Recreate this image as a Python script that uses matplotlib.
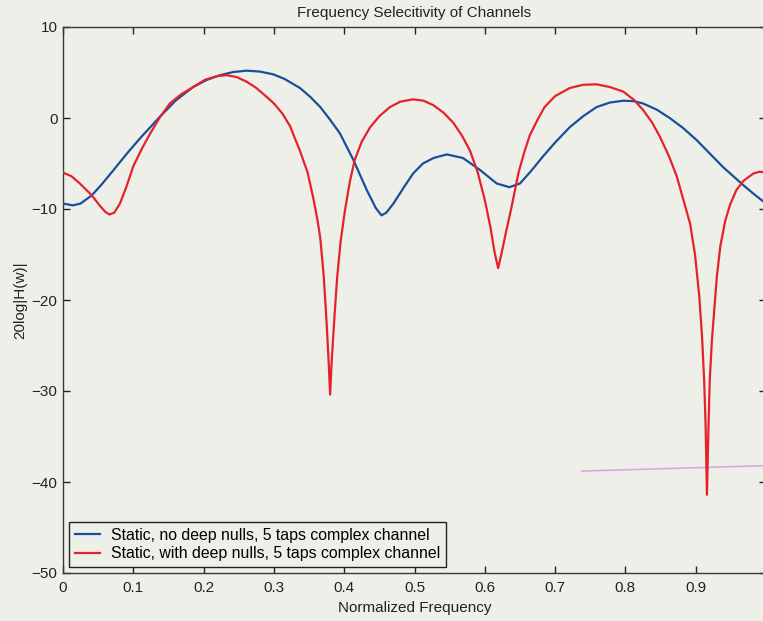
import matplotlib
matplotlib.use("Agg")
import matplotlib.pyplot as plt

# ---- data ----
blue_x = [0.000, 0.014, 0.025, 0.041, 0.055, 0.070, 0.091, 0.110, 0.138, 0.160,
          0.185, 0.205, 0.223, 0.242, 0.261, 0.280, 0.299, 0.315, 0.337, 0.352,
          0.366, 0.380, 0.394, 0.413, 0.432, 0.445, 0.453, 0.460, 0.470, 0.485,
          0.498, 0.512, 0.527, 0.546, 0.569, 0.593, 0.617, 0.635, 0.650, 0.665,
          0.683, 0.700, 0.721, 0.740, 0.759, 0.778, 0.797, 0.812, 0.825, 0.845,
          0.863, 0.882, 0.901, 0.920, 0.939, 0.955, 0.968, 0.985, 1.000]
blue_y = [-9.4, -9.6, -9.4, -8.5, -7.3, -5.9, -3.9, -2.2, 0.15, 1.9,
          3.4, 4.2, 4.7, 5.05, 5.2, 5.1, 4.8, 4.3, 3.3, 2.3,
          1.2, -0.2, -1.7, -4.6, -7.9, -9.9, -10.7, -10.4, -9.4, -7.6,
          -6.1, -5.0, -4.4, -4.0, -4.4, -5.7, -7.2, -7.6, -7.2, -5.9,
          -4.2, -2.7, -1.0, 0.2, 1.2, 1.7, 1.9, 1.85, 1.6, 0.9,
          0.0, -1.1, -2.4, -3.9, -5.4, -6.5, -7.4, -8.5, -9.4]

red_x = [0.000, 0.012, 0.024, 0.041, 0.052, 0.060, 0.066, 0.073, 0.081, 0.090,
         0.100, 0.112, 0.124, 0.138, 0.152, 0.168, 0.185, 0.202, 0.219, 0.233,
         0.247, 0.261, 0.275, 0.290, 0.300, 0.312, 0.323, 0.337, 0.348, 0.356,
         0.362, 0.366, 0.371, 0.375, 0.378, 0.380, 0.382, 0.386, 0.390, 0.395,
         0.401, 0.408, 0.415, 0.425, 0.437, 0.450, 0.465, 0.480, 0.498, 0.513,
         0.527, 0.541, 0.555, 0.568, 0.579, 0.590, 0.600, 0.608, 0.614, 0.619,
         0.624, 0.630, 0.638, 0.648, 0.656, 0.664, 0.675, 0.685, 0.700, 0.721,
         0.740, 0.759, 0.778, 0.797, 0.812, 0.825, 0.838, 0.849, 0.862, 0.873,
         0.884, 0.892, 0.899, 0.905, 0.909, 0.912, 0.914, 0.916, 0.918, 0.920,
         0.923, 0.926, 0.930, 0.935, 0.942, 0.949, 0.958, 0.968, 0.982, 0.991,
         1.000]
red_y = [-6.0, -6.4, -7.2, -8.5, -9.6, -10.3, -10.6, -10.4, -9.4, -7.6,
         -5.3, -3.4, -1.7, 0.1, 1.6, 2.6, 3.4, 4.2, 4.6, 4.7,
         4.5, 4.0, 3.3, 2.3, 1.6, 0.5, -0.9, -3.6, -6.0, -8.8,
         -11.2, -13.2, -17.5, -22.5, -27.0, -30.4, -27.0, -22.0, -17.5, -13.5,
         -10.2, -7.0, -4.6, -2.6, -1.0, 0.2, 1.2, 1.8, 2.05, 1.9,
         1.4, 0.6, -0.5, -2.0, -3.6, -6.0, -9.0, -12.0, -14.8, -16.5,
         -14.8, -12.6, -9.8, -6.0, -3.8, -1.9, -0.2, 1.2, 2.4, 3.3,
         3.65, 3.7, 3.4, 2.9, 2.0, 0.9, -0.5, -2.05, -4.2, -6.4,
         -9.4, -11.6, -15.0, -19.5, -24.0, -28.8, -33.5, -41.4, -34.5, -28.8,
         -24.5, -21.5, -17.5, -14.1, -11.3, -9.5, -7.9, -6.9, -6.1, -5.9,
         -6.0]

mark_x = [0.738, 1.0]
mark_y = [-38.8, -38.2]

labels = ["Static, no deep nulls, 5 taps complex channel",
          "Static, with deep nulls, 5 taps complex channel"]
xticks = [0, 0.1, 0.2, 0.3, 0.4, 0.5, 0.6, 0.7, 0.8, 0.9, 1.0]
xtick_labels = ["0", "0.1", "0.2", "0.3", "0.4", "0.5", "0.6", "0.7", "0.8", "0.9", ""]
yticks = [-50, -40, -30, -20, -10, 0, 10]

plt.rcParams['font.family'] = ['Liberation Sans', 'DejaVu Sans']
bg = '#efefe9'
fig = plt.figure(figsize=(7.63, 6.21), dpi=100, facecolor=bg)
ax = fig.add_axes([63/763, 48/621, 703/763, 546/621])
ax.set_facecolor(bg)

ax.plot(blue_x, blue_y, color='#17509a', lw=1.6, label=labels[0], zorder=3,
        solid_joinstyle='round')
ax.plot(red_x, red_y, color='#e5222c', lw=1.6, label=labels[1], zorder=3,
        solid_joinstyle='round')
ax.plot(mark_x, mark_y, color='#d9a9dc', lw=1.2, zorder=2)

ax.set_xlim(0, 1)
ax.set_ylim(-50, 10)
ax.set_xticks(xticks)
ax.set_xticklabels(xtick_labels)
ax.set_yticks(yticks)
ax.tick_params(axis='both', direction='in', top=True, right=True, length=5, width=1,
               labelsize=11, colors='#222222')
ax.tick_params(axis='x', pad=6)
ax.tick_params(axis='y', pad=4)
for s in ax.spines.values():
    s.set_color('#2f3f36')
    s.set_linewidth(1.0)

ax.set_title("Frequency Selecitivity of Channels", fontsize=11, pad=7, color='#222222')
ax.set_xlabel("Normalized Frequency", fontsize=11, color='#222222', labelpad=4)
ax.set_ylabel("20log|H(w)|", fontsize=11, color='#222222', labelpad=3)

leg = ax.legend(loc='lower left', fontsize=11.4, frameon=True, fancybox=False,
                edgecolor='#222222', facecolor=bg, framealpha=1.0,
                handlelength=1.6, borderpad=0.35, labelspacing=0.2,
                handletextpad=0.7, borderaxespad=0.4)
leg.get_frame().set_linewidth(1.0)

fig.savefig("out.png", dpi=100, facecolor=bg)
